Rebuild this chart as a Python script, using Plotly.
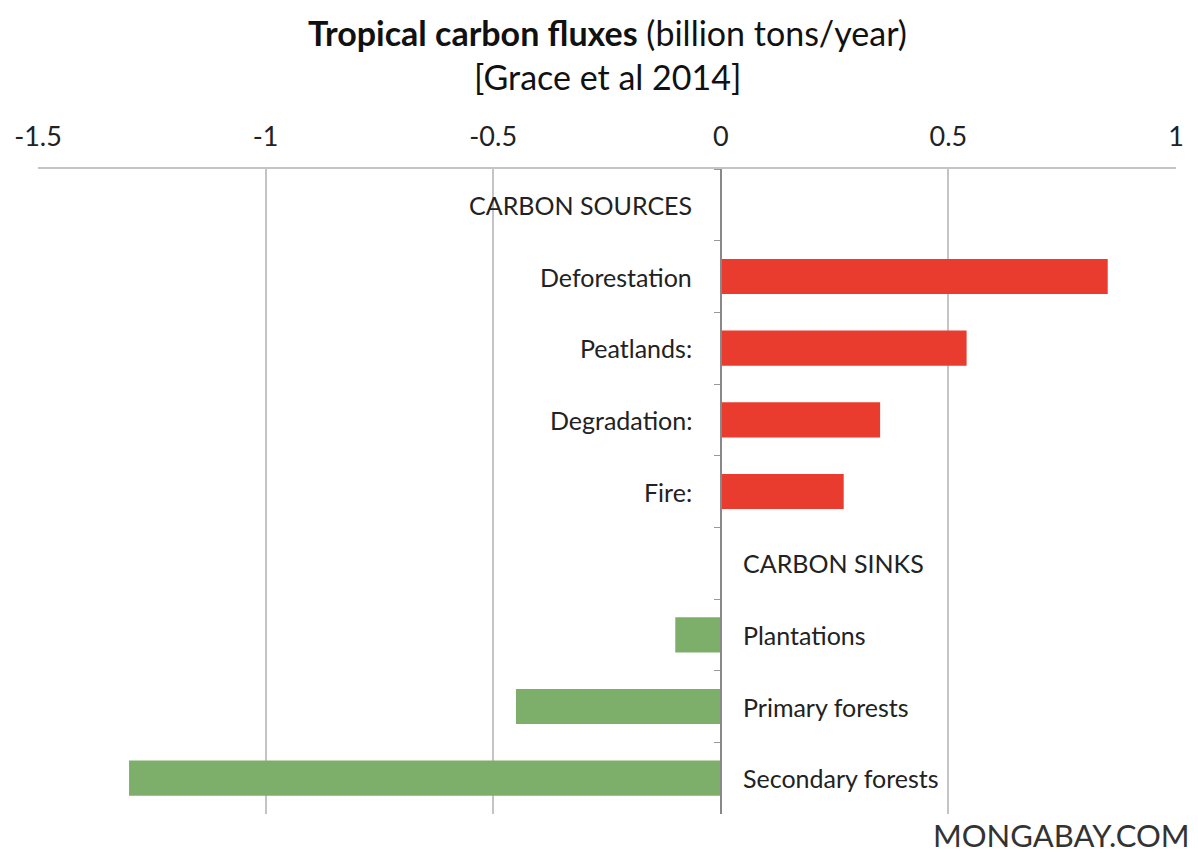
import plotly.graph_objects as go

categories = ["CARBON SOURCES", "Deforestation", "Peatlands:", "Degradation:", "Fire:",
              "CARBON SINKS", "Plantations", "Primary forests", "Secondary forests"]
values = [None, 0.85, 0.54, 0.35, 0.27, None, -0.10, -0.45, -1.30]
tick_vals = [-1.5, -1, -0.5, 0, 0.5, 1]
tick_text = ["-1.5", "-1", "-0.5", "0", "0.5", "1"]
title_line1 = "<b>Tropical carbon fluxes</b> (billion tons/year)"
title_line2 = "[Grace et al 2014]"
credit = "MONGABAY.COM"

RED = "#E93C2F"
GREEN = "#7DAF6B"
FONT = "Lato, Open Sans, sans-serif"

colors = [GREEN if (v is not None and v < 0) else RED for v in values]

fig = go.Figure()
fig.add_trace(go.Bar(
    y=categories, x=[v if v is not None else 0 for v in values], orientation="h",
    marker=dict(color=colors, line=dict(width=0)), width=0.49,
    hoverinfo="x+y", showlegend=False,
))

annots = []
src_mode = True
for c in categories:
    if c == "CARBON SINKS":
        src_mode = False
    if src_mode:
        annots.append(dict(x=0, y=c, xref="x", yref="y", text=c, showarrow=False,
                           xanchor="right", xshift=-27, font=dict(size=25, color="#222", family=FONT)))
    else:
        annots.append(dict(x=0, y=c, xref="x", yref="y", text=c, showarrow=False,
                           xanchor="left", xshift=20, font=dict(size=25, color="#222", family=FONT)))

annots.append(dict(x=0.5, y=(814 - 33) / 645, xref="paper", yref="paper", xanchor="center",
                   yanchor="middle", text=title_line1, showarrow=False,
                   font=dict(size=34, color="#111", family=FONT)))
annots.append(dict(x=0.5, y=(814 - 76) / 645, xref="paper", yref="paper", xanchor="center",
                   yanchor="middle", text=title_line2, showarrow=False,
                   font=dict(size=34, color="#111", family=FONT)))
annots.append(dict(x=(1192 - 38) / 1138, y=(814 - 835) / 645, xref="paper", yref="paper",
                   xanchor="right", yanchor="middle", text=credit, showarrow=False,
                   font=dict(size=31, color="#333", family=FONT)))

fig.update_layout(
    width=1198, height=854,
    paper_bgcolor="white", plot_bgcolor="white",
    margin=dict(l=38, r=22, t=169, b=40),
    xaxis=dict(range=[-1.5, 1], side="top", tickvals=tick_vals, ticktext=tick_text,
               showgrid=True, gridcolor="#C4C4C4", gridwidth=2, zeroline=False,
               showline=True, linecolor="#C4C4C4", linewidth=2,
               ticks="", ticklabelstandoff=10,
               tickfont=dict(size=27, color="#222", family=FONT), fixedrange=True),
    yaxis=dict(autorange="reversed", anchor="free", position=0.6, showline=True,
               linecolor="#888", linewidth=1.5, ticks="outside", tickson="boundaries",
               ticklen=6, tickcolor="#999", showticklabels=False, showgrid=False,
               fixedrange=True),
    annotations=annots,
    bargap=0.5,
)

fig.write_html("out.html", config={"displayModeBar": False},
               post_script="document.body.style.margin='0';")
